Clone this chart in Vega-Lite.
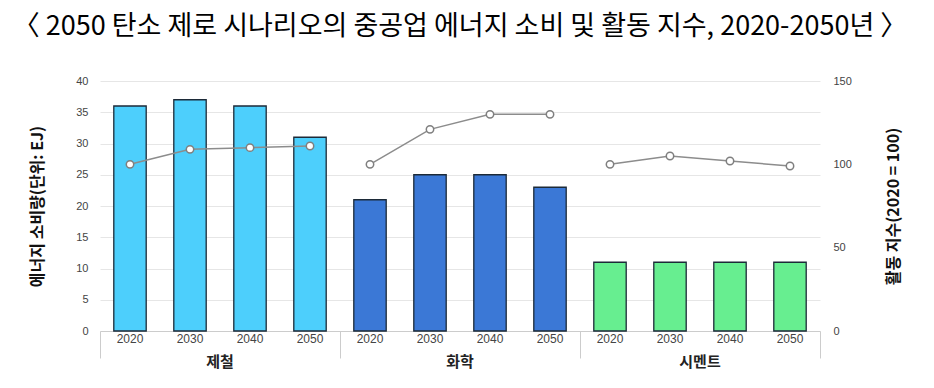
{
  "$schema": "https://vega.github.io/schema/vega-lite/v6.json",
  "padding": {"left": 12, "top": 13, "right": 5, "bottom": 5},
  "background": "white",
  "width": 720,
  "height": 250,
  "title": {
    "text": "〈 2050 탄소 제로 시나리오의 중공업 에너지 소비 및 활동 지수, 2020-2050년 〉",
    "font": "Noto Sans CJK KR",
    "fontSize": 27,
    "fontWeight": "normal",
    "color": "#000000",
    "anchor": "middle",
    "offset": 34
  },
  "data": {
    "values": [
      {"sector": "제철", "year": "2020", "key": "제철|2020", "energy": 36, "index": 100},
      {"sector": "제철", "year": "2030", "key": "제철|2030", "energy": 37, "index": 109},
      {"sector": "제철", "year": "2040", "key": "제철|2040", "energy": 36, "index": 110},
      {"sector": "제철", "year": "2050", "key": "제철|2050", "energy": 31, "index": 111},
      {"sector": "화학", "year": "2020", "key": "화학|2020", "energy": 21, "index": 100},
      {"sector": "화학", "year": "2030", "key": "화학|2030", "energy": 25, "index": 121},
      {"sector": "화학", "year": "2040", "key": "화학|2040", "energy": 25, "index": 130},
      {"sector": "화학", "year": "2050", "key": "화학|2050", "energy": 23, "index": 130},
      {"sector": "시멘트", "year": "2020", "key": "시멘트|2020", "energy": 11, "index": 100},
      {"sector": "시멘트", "year": "2030", "key": "시멘트|2030", "energy": 11, "index": 105},
      {"sector": "시멘트", "year": "2040", "key": "시멘트|2040", "energy": 11, "index": 102},
      {"sector": "시멘트", "year": "2050", "key": "시멘트|2050", "energy": 11, "index": 99}
    ]
  },
  "layer": [
    {
      "encoding": {
        "y": {
          "field": "energy",
          "type": "quantitative",
          "scale": {"domain": [0, 40]},
          "axis": {
            "title": "에너지 소비량(단위: EJ)",
            "titleFont": "Noto Sans CJK KR",
            "titleFontSize": 16,
            "titleFontWeight": "bold",
            "titleColor": "#111111",
            "titlePadding": 30,
            "values": [0, 5, 10, 15, 20, 25, 30, 35, 40],
            "labelFont": "Liberation Sans",
            "labelFontSize": 11,
            "labelColor": "#444444",
            "labelPadding": 12,
            "ticks": false,
            "tickSize": 0,
            "domain": false,
            "grid": true,
            "gridColor": "#e6e6e6"
          }
        }
      },
      "layer": [
        {
          "mark": {"type": "bar", "stroke": "#1c2a38", "strokeWidth": 1.3, "width": {"band": 0.54}},
          "encoding": {
            "x": {
              "field": "key",
              "type": "ordinal",
              "sort": null,
              "scale": {"paddingInner": 0, "paddingOuter": 0},
              "axis": {
                "orient": "bottom",
                "title": null,
                "labelAngle": 0,
                "labelExpr": "split(datum.value, '|')[1]",
                "labelFont": "Liberation Sans",
                "labelFontSize": 12,
                "labelColor": "#444444",
                "labelPadding": 2,
                "ticks": false,
                "tickSize": 0,
                "domainColor": "#cccccc",
                "grid": false
              }
            },
            "color": {
              "field": "sector",
              "type": "nominal",
              "scale": {"domain": ["제철", "화학", "시멘트"], "range": ["#4dcffc", "#3b78d6", "#67ee90"]},
              "legend": null
            }
          }
        },
        {
          "mark": {"type": "bar", "opacity": 0, "width": {"band": 0.54}},
          "encoding": {
            "x": {
              "field": "key",
              "type": "ordinal",
              "sort": null,
              "axis": {
                "orient": "bottom",
                "title": null,
                "values": ["제철|2020", "화학|2020", "시멘트|2020"],
                "bandPosition": 0,
                "labels": false,
                "domain": false,
                "grid": false,
                "ticks": true,
                "tickSize": 27,
                "tickColor": "#cccccc"
              }
            }
          }
        },
        {
          "mark": {"type": "bar", "opacity": 0, "width": {"band": 0.54}},
          "encoding": {
            "x": {
              "field": "key",
              "type": "ordinal",
              "sort": null,
              "axis": {
                "orient": "bottom",
                "title": null,
                "values": ["시멘트|2050"],
                "bandPosition": 1,
                "labels": false,
                "domain": false,
                "grid": false,
                "ticks": true,
                "tickSize": 27,
                "tickColor": "#cccccc"
              }
            }
          }
        }
      ],
      "resolve": {"axis": {"x": "independent"}}
    },
    {
      "mark": {
        "type": "line",
        "color": "#8c8c8c",
        "strokeWidth": 1.5,
        "point": {"filled": true, "fill": "white", "stroke": "#7f7f7f", "strokeWidth": 1.5, "size": 55}
      },
      "encoding": {
        "x": {
          "field": "key",
          "type": "ordinal",
          "sort": null,
          "axis": {
            "orient": "bottom",
            "title": null,
            "values": ["제철|2040", "화학|2040", "시멘트|2040"],
            "labelOffset": -30,
            "labelExpr": "split(datum.value, '|')[0]",
            "labelAngle": 0,
            "labelFont": "Noto Sans CJK KR",
            "labelFontSize": 15,
            "labelFontWeight": "bold",
            "labelColor": "#222222",
            "labelPadding": 23,
            "ticks": false,
            "tickSize": 0,
            "domain": false,
            "grid": false
          }
        },
        "y": {
          "field": "index",
          "type": "quantitative",
          "scale": {"domain": [0, 150]},
          "axis": {
            "orient": "right",
            "title": "활동 지수(2020 = 100)",
            "titleAngle": 270,
            "titleBaseline": "top",
            "titleFont": "Noto Sans CJK KR",
            "titleFontSize": 16,
            "titleFontWeight": "bold",
            "titleColor": "#111111",
            "titlePadding": 34,
            "values": [0, 50, 100, 150],
            "labelFont": "Liberation Sans",
            "labelFontSize": 11,
            "labelColor": "#444444",
            "labelPadding": 13,
            "ticks": false,
            "tickSize": 0,
            "domain": false,
            "grid": false
          }
        },
        "detail": {"field": "sector", "type": "nominal"}
      }
    }
  ],
  "resolve": {"scale": {"y": "independent"}, "axis": {"x": "independent"}},
  "config": {
    "view": {"stroke": null},
    "font": "Liberation Sans"
  }
}
